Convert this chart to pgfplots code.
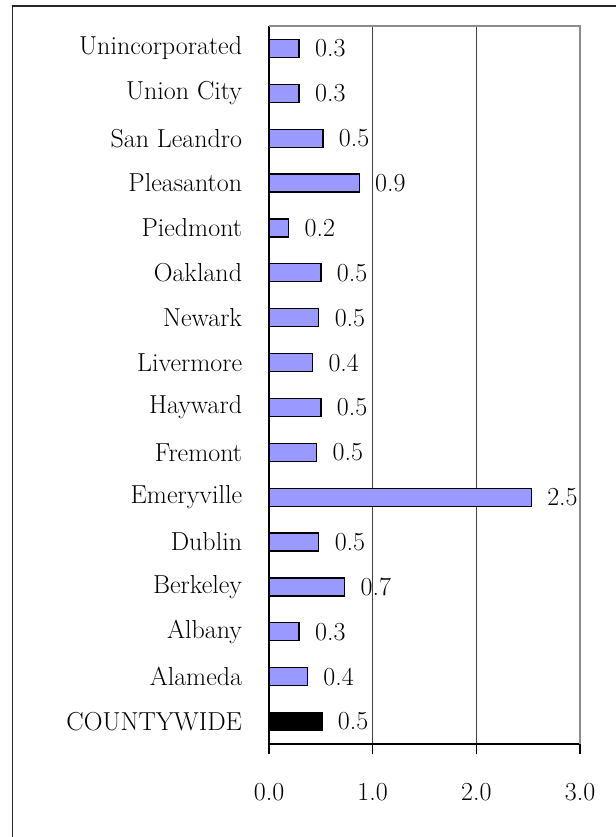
\documentclass[border=0pt]{standalone}
\usepackage{fontspec}
\usepackage{pgfplots}
\pgfplotsset{compat=1.18}
\definecolor{barblue}{HTML}{9999FF}
\definecolor{gridgray}{HTML}{404040}
\definecolor{framegray}{HTML}{8C8C8C}
\begin{document}
\fontsize{19.5}{23}\selectfont
\begin{tikzpicture}
\useasboundingbox (0,0) rectangle (462pt,627.75pt);
\draw[line width=1.1pt, color=black!85] (9.4pt,0) -- (9.4pt,623.25pt) -- (462pt,623.25pt);
\begin{axis}[
  at={(201.75pt,69.75pt)}, anchor=south west,
  scale only axis, width=233.25pt, height=538.5pt,
  xmin=0, xmax=3, ymin=-0.5, ymax=15.5,
  axis x line*=bottom, axis y line*=left,
  axis line style={black, line width=0.9pt, -},
  xtick={0,1,2,3},
  xticklabels={0.0,1.0,2.0,3.0},
  tick align=outside,
  major tick length=7.5pt,
  minor tick length=7.5pt,
  xtick style={black, line width=0.8pt},
  xticklabel style={yshift=-15pt, font=\fontsize{19.5}{23}\selectfont},
  ytick={0,...,15},
  yticklabels={COUNTYWIDE,Alameda,Albany,Berkeley,Dublin,Emeryville,Fremont,Hayward,Livermore,Newark,Oakland,Piedmont,Pleasanton,San Leandro,Union City,Unincorporated},
  ytick style={draw=none},
  minor ytick={-0.5,0.5,...,15.5},
  minor tick style={black, line width=0.8pt},
  yticklabel style={anchor=east, xshift=-6pt, font=\fontsize{19.5}{23}\selectfont},
  xmajorgrids, major grid style={gridgray, line width=0.6pt},
  /pgf/number format/assume math mode=true,
  xbar, bar width=13.5pt, bar shift=0pt,
  nodes near coords,
  nodes near coords style={anchor=west, xshift=5pt, font=\fontsize{19.5}{23}\selectfont,
    /pgf/number format/.cd, fixed, fixed zerofill, precision=1},
  clip=false,
]
\addplot[draw=black, line width=1pt, fill=barblue] coordinates {
  (0.37,1) (0.29,2) (0.73,3) (0.48,4) (2.53,5) (0.46,6) (0.50,7) (0.42,8)
  (0.48,9) (0.50,10) (0.19,11) (0.87,12) (0.52,13) (0.29,14) (0.29,15)
};
\addplot[draw=black, line width=1pt, fill=black] coordinates {(0.51,0)};
\draw[framegray, line width=1.4pt] (rel axis cs:0,1) -- (rel axis cs:1,1) -- (rel axis cs:1,0);
\end{axis}
\end{tikzpicture}
\end{document}
